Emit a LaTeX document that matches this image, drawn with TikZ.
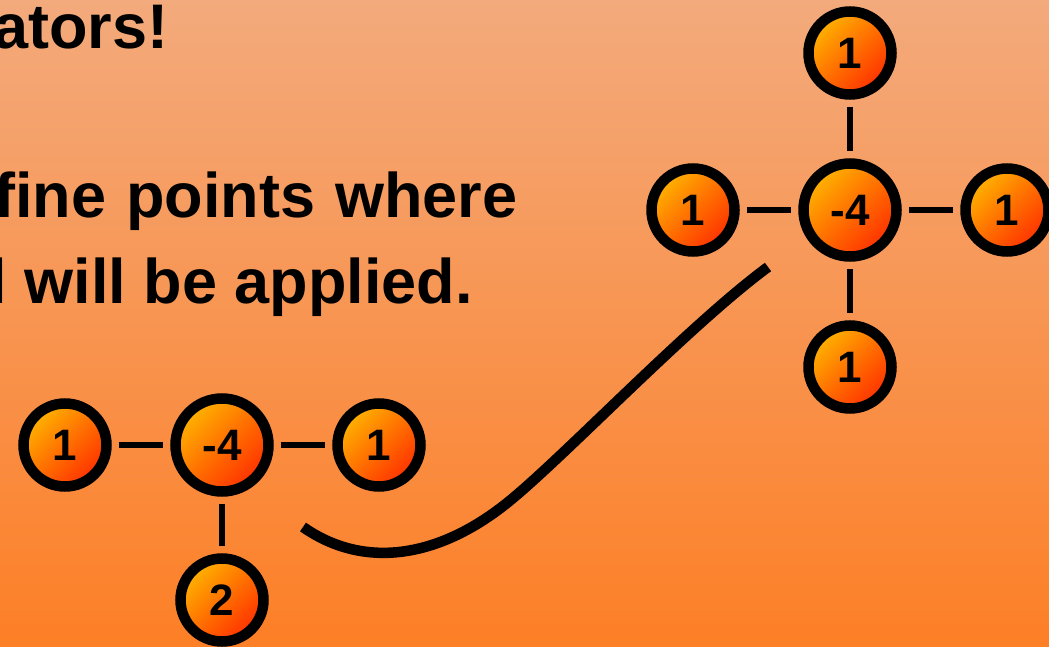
\documentclass[tikz,border=0pt]{standalone}
\usepackage{fontspec}
\setmainfont{Liberation Sans}
\definecolor{bgtop}{RGB}{243,170,124}
\definecolor{bgbot}{RGB}{253,127,38}
\definecolor{bulbtop}{RGB}{255,180,0}
\definecolor{bulbmid}{RGB}{255,112,0}
\definecolor{bulbbot}{RGB}{255,48,0}
\begin{document}
\begin{tikzpicture}[x=1pt,y=-1pt,
  stencil/.style={circle, draw=black, line width=10.5pt, inner sep=0pt, outer sep=5.25pt,
    minimum size=83pt, top color=bulbtop, bottom color=bulbbot, middle color=bulbmid,
    shading angle=45, text=black, font=\fontsize{44}{44}\selectfont\bfseries},
  centre/.style={stencil, minimum size=93pt},
  link/.style={line width=5.5pt, shorten <=7pt, shorten >=7pt},
  caption/.style={anchor=base west, inner sep=0pt, font=\fontsize{63}{85}\selectfont\bfseries}]
\useasboundingbox (0,0) rectangle (1049,647);
\shade[top color=bgtop, bottom color=bgbot] (0,0) rectangle (1049,647);
\clip (0,0) rectangle (1049,647);

% slide text, running off the left edge
\node[caption] (lineA) at (-7,49) {ators!};
\node[caption] (lineB) at (-6,218) {fine\hspace{20pt}points\hspace{20pt}where};
\node[caption] (lineC) at (-10.5,303) {l will be applied.};

% five-point stencil, upper right
\node[centre]   (c)  at (850,210) {-4};
\node[stencil]  (cn) at (850,53)  {1};
\node[stencil]  (cs) at (850,367) {1};
\node[stencil]  (cw) at (693,210) {1};
\node[stencil]  (ce) at (1007,210) {1};
\draw[link] (cn) -- (c);
\draw[link] (c) -- (cs);
\draw[link] (cw) -- (c);
\draw[link] (c) -- (ce);

% boundary stencil, lower left
\node[centre]   (b)  at (222,445) {-4};
\node[stencil]  (bw) at (65,445)  {1};
\node[stencil]  (be) at (379,445) {1};
\node[stencil]  (bs) at (222,600) {2};
\draw[link] (bw) -- (b);
\draw[link] (b) -- (be);
\draw[link] (b) -- (bs);

% swoosh joining the two stencils
\coordinate (swA) at (303,527);
\coordinate (swJ) at (507,503);
\coordinate (swB) at (768,267);
\draw[line width=10.5pt] (swA) .. controls (363,569) and (437,559) .. (swJ)
  .. controls (562,459) and (688,326) .. (swB);
\end{tikzpicture}
\end{document}
